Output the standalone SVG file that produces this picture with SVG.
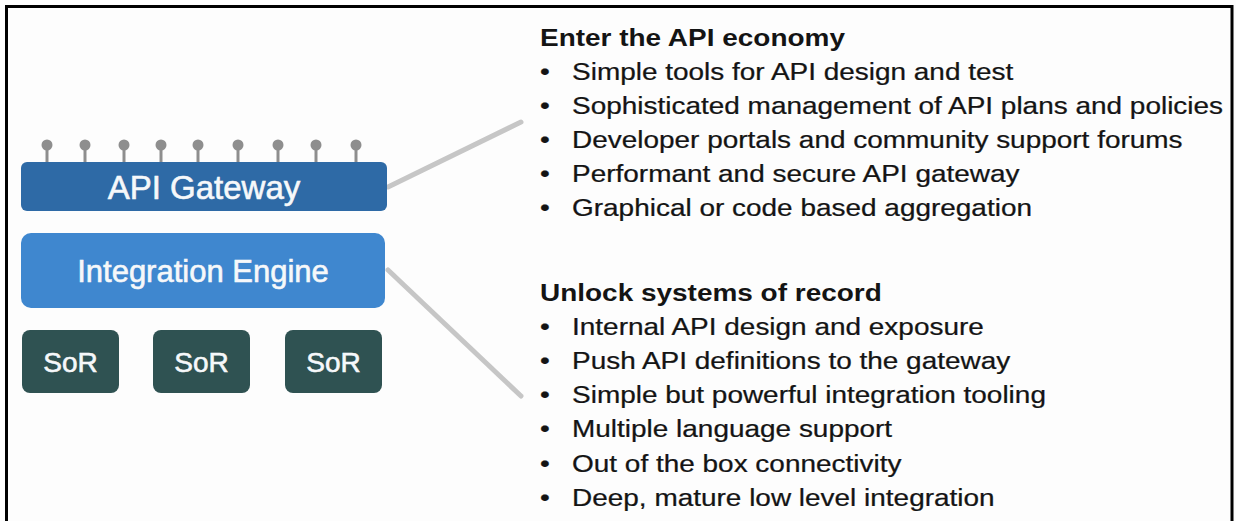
<svg xmlns="http://www.w3.org/2000/svg" width="1236" height="521" viewBox="0 0 1236 521">
  <style>
    .box-text { font-family: "Liberation Sans", Arial, sans-serif; fill: #f6f8fa; stroke: #f6f8fa; stroke-width: 0.6; text-anchor: middle; }
    .head { font-family: "Liberation Sans", Arial, sans-serif; font-weight: bold; font-size: 24px; fill: #141414; }
    .item { font-family: "Liberation Sans", Arial, sans-serif; font-size: 24px; fill: #141414; stroke: #141414; stroke-width: 0.25; }
    .pin { fill: #8e8e8e; }
    .stem { stroke: #8e8e8e; stroke-width: 3; }
    .link { stroke: #c6c6c6; stroke-width: 5; stroke-linecap: round; fill: none; }
    .sor { fill: #2f5252; }
  </style>

  <rect x="0" y="0" width="1236" height="521" fill="#fdfdfd"/>
  <!-- outer frame, open at the bottom -->
  <path d="M6.5 521 V6.5 H1232 V521" fill="none" stroke="#000" stroke-width="3"/>

  <!-- connectors from the stack to the two feature lists -->
  <g id="connectors">
    <line class="link" x1="388" y1="187" x2="521" y2="122"/>
    <line class="link" x1="388" y1="270" x2="521" y2="396"/>
  </g>

  <g id="api-gateway">
    <g id="gateway-pins">
      <line class="stem" x1="47" y1="145" x2="47" y2="163"/>
      <line class="stem" x1="85" y1="145" x2="85" y2="163"/>
      <line class="stem" x1="124" y1="145" x2="124" y2="163"/>
      <line class="stem" x1="161" y1="145" x2="161" y2="163"/>
      <line class="stem" x1="198" y1="145" x2="198" y2="163"/>
      <line class="stem" x1="238" y1="145" x2="238" y2="163"/>
      <line class="stem" x1="278" y1="145" x2="278" y2="163"/>
      <line class="stem" x1="316" y1="145" x2="316" y2="163"/>
      <line class="stem" x1="356" y1="145" x2="356" y2="163"/>
      <circle class="pin" cx="47" cy="145" r="5.5"/>
      <circle class="pin" cx="85" cy="145" r="5.5"/>
      <circle class="pin" cx="124" cy="145" r="5.5"/>
      <circle class="pin" cx="161" cy="145" r="5.5"/>
      <circle class="pin" cx="198" cy="145" r="5.5"/>
      <circle class="pin" cx="238" cy="145" r="5.5"/>
      <circle class="pin" cx="278" cy="145" r="5.5"/>
      <circle class="pin" cx="316" cy="145" r="5.5"/>
      <circle class="pin" cx="356" cy="145" r="5.5"/>
    </g>
    <rect x="21" y="162" width="366" height="49" rx="6" fill="#2e6aa6"/>
    <text class="box-text" x="204" y="198.5" font-size="33">API Gateway</text>
  </g>

  <g id="integration-engine">
    <rect x="21" y="233" width="364" height="75" rx="10" fill="#3f87cf"/>
    <text class="box-text" x="203" y="281.5" font-size="31">Integration Engine</text>
  </g>

  <g id="sor-1">
    <rect class="sor" x="22" y="330" width="97" height="63" rx="8"/>
    <text class="box-text" x="70.5" y="371.5" font-size="28">SoR</text>
  </g>
  <g id="sor-2">
    <rect class="sor" x="153" y="330" width="97" height="63" rx="8"/>
    <text class="box-text" x="201.5" y="371.5" font-size="28">SoR</text>
  </g>
  <g id="sor-3">
    <rect class="sor" x="285" y="330" width="97" height="63" rx="8"/>
    <text class="box-text" x="333.5" y="371.5" font-size="28">SoR</text>
  </g>

  <!-- feature list for the gateway side -->
  <g id="api-economy" transform="translate(540 0) scale(1.165 1)">
    <text class="head" x="0" y="46">Enter the API economy</text>
    <text class="item" x="0" y="80.5">•</text>
    <text class="item" x="27.5" y="80.5">Simple tools for API design and test</text>
    <text class="item" x="0" y="114.5">•</text>
    <text class="item" x="27.5" y="114.5">Sophisticated management of API plans and policies</text>
    <text class="item" x="0" y="148.5">•</text>
    <text class="item" x="27.5" y="148.5">Developer portals and community support forums</text>
    <text class="item" x="0" y="182.5">•</text>
    <text class="item" x="27.5" y="182.5">Performant and secure API gateway</text>
    <text class="item" x="0" y="216.5">•</text>
    <text class="item" x="27.5" y="216.5">Graphical or code based aggregation</text>
  </g>

  <!-- feature list for the integration side -->
  <g id="systems-of-record" transform="translate(540 0) scale(1.165 1)">
    <text class="head" x="0" y="301">Unlock systems of record</text>
    <text class="item" x="0" y="335.5">•</text>
    <text class="item" x="27.5" y="335.5">Internal API design and exposure</text>
    <text class="item" x="0" y="369.5">•</text>
    <text class="item" x="27.5" y="369.5">Push API definitions to the gateway</text>
    <text class="item" x="0" y="403.5">•</text>
    <text class="item" x="27.5" y="403.5">Simple but powerful integration tooling</text>
    <text class="item" x="0" y="437.5">•</text>
    <text class="item" x="27.5" y="437.5">Multiple language support</text>
    <text class="item" x="0" y="472">•</text>
    <text class="item" x="27.5" y="472">Out of the box connectivity</text>
    <text class="item" x="0" y="506">•</text>
    <text class="item" x="27.5" y="506">Deep, mature low level integration</text>
  </g>
</svg>
